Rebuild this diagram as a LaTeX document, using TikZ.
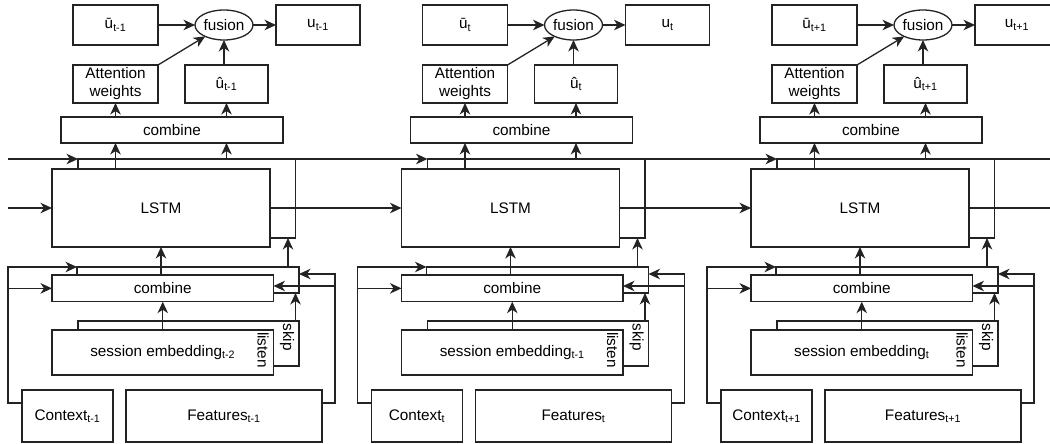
\documentclass[tikz,border=0pt]{standalone}
\usepackage{fontspec}
\setmainfont{Liberation Sans}
\usetikzlibrary{arrows.meta,shapes.geometric,calc}

\definecolor{linegray}{RGB}{35,35,35}

\tikzset{
  box/.style={draw, fill=white, inner sep=0pt, outer sep=0pt, align=center,
    font=\fontsize{15.3}{18}\selectfont},
  arr/.style={-{Stealth[length=11.5pt,width=10.5pt,inset=3.5pt]}},
  vlabel/.style={rotate=-90, inner sep=0pt, font=\fontsize{15.3}{18}\selectfont},
}

% rectangle node given by its corners: name, x1, y1, x2, y2, text
\newcommand\mkbox[6]{%
  \node[box, minimum width={(#4-#2)*1pt}, minimum height={(#5-#3)*1pt}]
    (#1) at ({(#2+#4)/2},{(#3+#5)/2}) {#6};}

\begin{document}
\begin{tikzpicture}[x=1pt, y=-1pt, line width=1.3pt, line join=miter, draw=linegray]
\useasboundingbox (0,0) rectangle (1050,444);

\foreach \k/\p/\q/\s in {1/{t-1}/0/{t-2}, 2/{t}/349.5/{t-1}, 3/{t+1}/699/{t}} {
\begin{scope}[xshift=\q pt]
  % output row
  \mkbox{ub\k}{73}{5}{158}{45}{ū\textsubscript{\p}}
  \node[box, ellipse, minimum width=58pt, minimum height=30pt] (fu\k) at (224,25) {fusion};
  \mkbox{u\k}{276}{5}{360}{45}{u\textsubscript{\p}}
  \mkbox{aw\k}{73}{65}{158}{103}{Attention\\weights}
  \mkbox{uh\k}{185}{65}{268}{103}{û\textsubscript{\p}}
  \mkbox{cmt\k}{61}{117}{283}{143}{combine}
  % recurrent cell: back layer and LSTM
  \mkbox{cb\k}{78}{159}{295.5}{238}{}
  \mkbox{ls\k}{52}{169}{270}{247}{LSTM}
  % input combination: back layer and front
  \mkbox{lb\k}{77}{267}{299}{293}{}
  \mkbox{cm\k}{52}{275}{273.5}{301.7}{combine}
  % session embedding with skip / listen outputs
  \mkbox{sb\k}{78}{321}{299}{366}{}
  \mkbox{se\k}{52}{330}{273.5}{375}{session embedding\textsubscript{\s}}
  \node[vlabel] (sk\k) at (287,337) {skip};
  \node[vlabel] (li\k) at (263,350) {listen};
  % inputs
  \mkbox{cx\k}{22}{390}{113}{442}{Context\textsubscript{\p}}
  \mkbox{ft\k}{126}{390}{322}{442}{Features\textsubscript{\p}}

  % connectors of the output row
  \draw[arr] (ub\k.east) -- (fu\k.west);
  \draw[arr] (fu\k.east) -- (u\k.west);
  \draw[arr] (aw\k.north east) -- (fu\k);
  \draw[arr] (fu\k.south |- uh\k.north) -- (fu\k.south);
  \draw[arr] (aw\k.south |- cmt\k.north) -- (aw\k.south);
  \draw[arr] (uh\k.south |- cmt\k.north) -- (uh\k.south);
  % cell to top combine
  \draw[arr] (aw\k.south |- ls\k.north) -- (aw\k.south |- cmt\k.south);
  \draw[arr] (uh\k.south |- cb\k.north) -- (uh\k.south |- cmt\k.south);
  % input combination to cell
  \draw[arr] (ls\k.south |- cm\k.north) -- (ls\k.south);
  \draw[arr] ([xshift=-11pt]lb\k.north east) -- ([xshift=-11pt]lb\k.north east |- cb\k.south);
  % session embedding to input combination
  \draw[arr] (cm\k.south |- se\k.north) -- (cm\k.south);
  \draw[arr] ([xshift=-3.5pt]sb\k.north east) -- ([xshift=-3.5pt]sb\k.north east |- lb\k.south);
  % context feed on the left
  \coordinate (cxin\k) at ([yshift=-13pt]cx\k.north west);
  \coordinate (lx\k) at ([xshift=-14pt]cx\k.north west);
  \draw[arr] (cxin\k) -- (lx\k |- cxin\k) -- (lx\k |- lb\k.north) -- (lb\k.north west);
  \draw[arr] (lx\k |- cm\k.west) -- (cm\k.west);
  % feature feed on the right
  \coordinate (ftin\k) at ([yshift=-13pt]ft\k.north east);
  \coordinate (rx\k) at ([xshift=13pt]ft\k.north east);
  \coordinate (lbin\k) at ([yshift=-7pt]lb\k.north east);
  \coordinate (cmin\k) at ([yshift=-11pt]cm\k.north east);
  \draw[arr] (ftin\k) -- (rx\k |- ftin\k) -- (rx\k |- lbin\k) -- (lbin\k);
  \draw[arr] (rx\k |- cmin\k) -- (cmin\k);
\end{scope}
}

% recurrent state passed between time steps
\coordinate (inC) at (8,159);
\coordinate (inH) at (8,208);
\coordinate (outC) at (1050,159);
\coordinate (outH) at (1050,208);
\draw[arr] (inC) -- (cb1.north west);
\draw[arr] (inH) -- (ls1.west);
\draw[arr] (cb1.north east) -- (cb2.north west);
\draw[arr] (ls1.east) -- (ls2.west);
\draw[arr] (cb2.north east) -- (cb3.north west);
\draw[arr] (ls2.east) -- (ls3.west);
\draw (cb3.north east) -- (outC);
\draw (ls3.east) -- (outH);
\end{tikzpicture}
\end{document}
